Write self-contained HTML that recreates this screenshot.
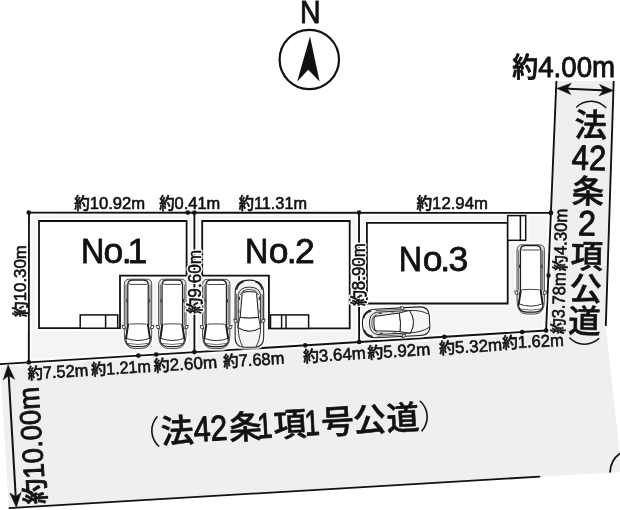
<!DOCTYPE html>
<html lang="ja"><head><meta charset="utf-8"><title>区画図</title>
<style>html,body{margin:0;padding:0;background:#fff}svg{display:block;will-change:transform}.t{font-family:'Liberation Sans','Noto Sans CJK JP',sans-serif;font-weight:500;fill:#111;stroke:#111;stroke-width:0.6px;stroke-linejoin:round}.ln{stroke:#111;stroke-width:1.85;fill:none;stroke-linecap:butt}.b{stroke:#111;stroke-width:1.8;fill:#fff;stroke-linejoin:miter}.p{stroke:#111;stroke-width:1.5;fill:#fff}.c{stroke:#1c1c1c;stroke-width:1.05;fill:#fff;stroke-linejoin:round;stroke-linecap:round}.c2{stroke:#3a3a3a;stroke-width:0.75;fill:none;stroke-linejoin:round;stroke-linecap:round}.k{stroke-width:0.55px}.d{stroke-width:1px}.g{stroke-width:0.9px}.pl{stroke:none;font-weight:300}.n{stroke-width:0.8px}.halo{stroke:#fff;stroke-width:3.2px;fill:#fff}</style></head><body>
<svg width="620" height="510" viewBox="0 0 620 510">
<rect width="620" height="510" fill="#fff"/>
<polygon fill="#efefef" points="0,364.1 546.1,330.5 550.9,212.9 556.4,81 613.7,81 605.8,326 620,456 620,472 608,472.7 9,508"/>
<polygon fill="#f4f4f4" points="28.8,212.5 550.9,212.9 546.1,330.5 28.8,362.3"/>
<defs>
<g id="van" transform="scale(1,0.984)"><path fill="none" stroke="#fff" stroke-width="4.5" opacity="0.7" d="M0,5 Q0,0 5,0 L22.4,0 Q27.4,0 27.4,5 L27.4,57 Q27.4,70.4 17.5,70.4 L9.9,70.4 Q0,70.4 0,57 Z"/><path class="c" style="fill:#e2e2e2;stroke:#444;stroke-width:0.95" d="M0,5 Q0,0 5,0 L22.4,0 Q27.4,0 27.4,5 L27.4,57 Q27.4,70.4 17.5,70.4 L9.9,70.4 Q0,70.4 0,57 Z"/><path class="c2" d="M1.7,46 L1.7,6"/><path class="c2" d="M25.7,46 L25.7,6"/><path class="c" style="stroke-width:1.15" d="M3.5,45.8 L3.5,5.6 Q3.5,0.9 8.2,0.9 L19.2,0.9 Q23.9,0.9 23.9,5.6 L23.9,45.8 L25.9,60.2 Q26.2,68.2 17.4,68.4 L10,68.4 Q1.2,68.2 1.5,60.2 Z"/><path class="c2" style="stroke:#333;stroke-width:0.9" d="M3.9,3.7 L5.6,5.3 L21.8,5.3 L23.5,3.7"/><path class="c2" style="stroke:#333;stroke-width:0.9" d="M5.5,45.6 Q13.7,45 21.9,45.6"/><path class="c" style="fill:none;stroke-width:1.7" d="M3.9,46.2 L1.9,59.8 M23.5,46.2 L25.5,59.8"/><path class="c2" style="stroke:#222;stroke-width:0.95" d="M1.7,60 Q13.7,64.8 25.7,60"/><path class="c2" d="M2.6,65.2 Q13.7,67.6 24.8,65.2"/><path class="c" style="stroke-width:0.8" d="M0.4,47.3 L-2.3,46.8 L-1.6,50 L0.8,50.4 Z M27,47.3 L29.7,46.8 L29,50 L26.6,50.4 Z"/><path class="c2" style="stroke:#333;stroke-width:1.2" d="M2.6,20.5 V23 M24.8,20.5 V23"/></g>
<g id="sedan"><path fill="none" stroke="#fff" stroke-width="4.5" opacity="0.7" d="M0,13 C0,4 5,0 14.3,0 C23.6,0 28.6,4 28.6,13 L28.6,57 Q28.6,67.2 19.5,67.2 L9.1,67.2 Q0,67.2 0,57 Z"/><path class="c" style="fill:#f4f4f4" d="M0,13 C0,4 5,0 14.3,0 C23.6,0 28.6,4 28.6,13 L28.6,57 Q28.6,67.2 19.5,67.2 L9.1,67.2 Q0,67.2 0,57 Z"/><path class="c" style="fill:none;stroke-width:1.5" d="M1.6,9 Q3,3.2 8,1.6 M27,9 Q25.6,3.2 20.6,1.6"/><path class="c2" d="M1.5,14 L1.5,40 M27.1,14 L27.1,40"/><path class="c" style="fill:#e6e6e6;stroke-width:0.9" d="M3.1,40 L3.1,15 Q4.2,7 14.3,7 Q24.4,7 25.5,15 L25.5,40 L25.5,47.6 Q14.3,54.6 3.1,47.6 Z"/><path class="c2" style="stroke:#333" d="M5.4,14.5 Q7,9.4 14.3,9.4 Q21.6,9.4 23.2,14.5"/><path class="c" style="stroke-width:1" d="M8.6,11.9 Q14.3,11.2 20,11.9 Q21.3,12.2 21.5,13.6 L23.5,37.4 Q14.3,38.8 5.1,37.4 L7.1,13.6 Q7.3,12.2 8.6,11.9 Z"/><path class="c" style="stroke-width:0.9" d="M5.1,37.4 Q14.3,38.8 23.5,37.4 L25.5,47.6 Q14.3,54.6 3.1,47.6 Z"/><path class="c2" style="stroke:#222;stroke-width:0.9" d="M3.1,47.9 Q3.2,59 7.6,66.6 M25.5,47.9 Q25.4,59 21,66.6"/><path class="c2" style="stroke:#333;stroke-width:1.2" d="M4.3,17 V19.5 M24.3,17 V19.5 M3.6,30 V32.5 M25,30 V32.5"/><path class="c" style="stroke-width:0.8" d="M1.4,39.6 L-1.3,38.8 L-0.8,41.8 L1.8,42.3 Z M27.2,39.6 L29.9,38.8 L29.4,41.8 L26.8,42.3 Z"/></g>
</defs>
<g fill="none" stroke="#fff" stroke-width="6.5" opacity="0.7" stroke-linejoin="round">
<path d="M39,221 L186.6,221 L186.6,275.7 L120,275.7 L120,328.2 L39,328.2 Z"/>
<path d="M202.2,221 L349.7,221 L349.7,328.4 L268.9,328.4 L268.9,275.7 L202.2,275.7 Z"/>
<path d="M366.9,222.9 L507.7,222.9 L507.7,303.5 L366.9,303.5 Z"/>
<path d="M507.7,215.6 H525.7 V240.3 H507.7"/>
<path d="M28.8,212.6 L550.9,212.9"/>
<path d="M29,212.6 L28.8,362.3"/>
<path d="M0,364.1 L28.8,362.3 L546.1,330.5"/>
<path d="M550.9,212.9 L546.1,330.5"/>
<path d="M194.4,212.6 L194.4,352.1"/>
<path d="M359,212.6 L359.1,342.0"/>
</g>
<path class="b" d="M39,221 L186.6,221 L186.6,275.7 L120,275.7 L120,328.2 L39,328.2 Z"/>
<path class="b" d="M202.2,221 L349.7,221 L349.7,328.4 L268.9,328.4 L268.9,275.7 L202.2,275.7 Z"/>
<path class="b" d="M366.9,222.9 L507.7,222.9 L507.7,303.5 L366.9,303.5 Z"/>
<rect class="p" x="80.2" y="314.9" width="37.5" height="13.3"/>
<path class="ln" style="stroke-width:1.5" d="M105.6,314.9 V328.2"/>
<rect class="p" x="270.5" y="314.9" width="38.1" height="13.5"/>
<path class="ln" style="stroke-width:1.4" d="M281.6,314.9 V328.4 M286,314.9 V328.4"/>
<rect class="p" x="507.7" y="215.6" width="18" height="24.7"/>
<path class="ln" style="stroke-width:1.5" d="M520.4,215.6 V240.3"/>
<path class="ln" d="M28.8,212.6 L550.9,212.9"/>
<path class="ln" d="M29,212.6 L28.8,362.3"/>
<path class="ln" d="M0,364.1 L28.8,362.3 L546.1,330.5"/>
<path class="ln" d="M556.4,81 L550.9,212.9 L546.1,330.5"/>
<path class="ln" d="M613.7,81 L605.8,326"/>
<path class="ln" d="M194.4,212.6 L194.4,352.1"/>
<path class="ln" d="M359,212.6 L359.1,342.0"/>
<path class="ln" d="M8.7,508.1 L540.2,476.6"/>
<path class="ln" d="M620,453.4 Q610.5,460 610,472.5"/>
<circle cx="28.8" cy="212.6" r="2.35" fill="#111"/>
<circle cx="187.8" cy="212.6" r="2.35" fill="#111"/>
<circle cx="194.4" cy="212.6" r="2.35" fill="#111"/>
<circle cx="359.0" cy="212.6" r="2.35" fill="#111"/>
<circle cx="550.9" cy="212.9" r="2.35" fill="#111"/>
<circle cx="548.4" cy="275.6" r="2.35" fill="#111"/>
<circle cx="546.1" cy="330.5" r="2.35" fill="#111"/>
<circle cx="28.8" cy="362.3" r="2.35" fill="#111"/>
<circle cx="138.4" cy="355.6" r="2.35" fill="#111"/>
<circle cx="156.2" cy="354.5" r="2.35" fill="#111"/>
<circle cx="194.4" cy="352.1" r="2.35" fill="#111"/>
<circle cx="305.2" cy="345.3" r="2.35" fill="#111"/>
<circle cx="359.1" cy="342.0" r="2.35" fill="#111"/>
<circle cx="444.3" cy="336.8" r="2.35" fill="#111"/>
<circle cx="522.2" cy="332.0" r="2.35" fill="#111"/>
<use href="#van" x="124.3" y="279.2"/>
<use href="#van" x="158.6" y="279.2"/>
<use href="#van" x="202.5" y="279.3"/>
<use href="#sedan" x="235.1" y="280.1"/>
<use href="#van" x="517" y="244.8"/>
<g transform="translate(396,322.4) rotate(-93) translate(-14.3,-33.6)"><use href="#sedan" x="0" y="0"/></g>
<circle cx="309.3" cy="59.5" r="29.7" fill="#fff" stroke="#111" stroke-width="2.2"/>
<path d="M310,36.6 L319.6,81.4 L308.2,69.8 L297.2,81.4 Z" fill="#111"/>
<g class="t">
<text x="310.2" y="22.5" font-size="31.4" text-anchor="middle" textLength="20.6" lengthAdjust="spacingAndGlyphs" style="stroke-width:0.9px">N</text>
<path class="ln" style="stroke-width:2.0" d="M563.0,88.6 L607.4,90.4"/><path fill="#111" d="M557.0,88.4 L570.8,94.5 L567.1,88.8 L571.2,83.3 Z"/><path fill="#111" d="M613.4,90.6 L599.2,95.7 L603.3,90.2 L599.6,84.5 Z"/>
<path class="ln" style="stroke-width:2.0" d="M8.4,371.0 L16.0,501.2"/><path fill="#111" d="M8.1,365.0 L3.3,379.8 L8.7,375.4 L14.5,379.2 Z"/><path fill="#111" d="M16.3,507.2 L9.9,493.0 L15.7,496.8 L21.1,492.4 Z"/>
<text class="n" font-size="35.5" y="262.7"><tspan x="81.1" textLength="23.3" lengthAdjust="spacingAndGlyphs">N</tspan><tspan x="103.6 121.7 127.5">o.1</tspan></text>
<text class="n" font-size="35.5" y="263.3"><tspan x="245.1" textLength="23.3" lengthAdjust="spacingAndGlyphs">N</tspan><tspan x="268.8 286.7 295">o.2</tspan></text>
<text class="n" font-size="35.5" y="271.4"><tspan x="398.7" textLength="23.3" lengthAdjust="spacingAndGlyphs">N</tspan><tspan x="422.7 440.3 448.5">o.3</tspan></text>
<text x="74.2" y="209.1" font-size="16.0" textLength="71.0" lengthAdjust="spacingAndGlyphs">約<tspan font-size="17.1">10.92m</tspan></text>
<text x="159.2" y="209.1" font-size="16.0" textLength="61.0" lengthAdjust="spacingAndGlyphs">約<tspan font-size="17.1">0.41m</tspan></text>
<text x="238.7" y="209.1" font-size="16.0" textLength="68.3" lengthAdjust="spacingAndGlyphs">約<tspan font-size="17.1">11.31m</tspan></text>
<text x="416.4" y="209.1" font-size="16.0" textLength="71.5" lengthAdjust="spacingAndGlyphs">約<tspan font-size="17.1">12.94m</tspan></text>
<text x="28.0" y="379.5" font-size="16.0" textLength="60.7" lengthAdjust="spacingAndGlyphs" transform="rotate(-3.50 28.0 379.5)">約<tspan font-size="17.1">7.52m</tspan></text>
<text x="91.5" y="375.6" font-size="16.0" textLength="59.8" lengthAdjust="spacingAndGlyphs" transform="rotate(-3.50 91.5 375.6)">約<tspan font-size="17.1">1.21m</tspan></text>
<text x="154.0" y="371.8" font-size="16.0" textLength="63.6" lengthAdjust="spacingAndGlyphs" transform="rotate(-3.50 154.0 371.8)">約<tspan font-size="17.1">2.60m</tspan></text>
<text x="223.5" y="367.5" font-size="16.0" textLength="61.3" lengthAdjust="spacingAndGlyphs" transform="rotate(-3.50 223.5 367.5)">約<tspan font-size="17.1">7.68m</tspan></text>
<text x="303.5" y="362.6" font-size="16.0" textLength="62.8" lengthAdjust="spacingAndGlyphs" transform="rotate(-3.50 303.5 362.6)">約<tspan font-size="17.1">3.64m</tspan></text>
<text x="367.7" y="358.7" font-size="16.0" textLength="63.0" lengthAdjust="spacingAndGlyphs" transform="rotate(-3.50 367.7 358.7)">約<tspan font-size="17.1">5.92m</tspan></text>
<text x="439.4" y="354.3" font-size="16.0" textLength="63.2" lengthAdjust="spacingAndGlyphs" transform="rotate(-3.50 439.4 354.3)">約<tspan font-size="17.1">5.32m</tspan></text>
<text x="502.6" y="348.7" font-size="16.0" textLength="61.5" lengthAdjust="spacingAndGlyphs" transform="rotate(-2.60 502.6 348.7)">約<tspan font-size="17.1">1.62m</tspan></text>
<text x="26.0" y="316.9" font-size="16.2" textLength="71.6" lengthAdjust="spacingAndGlyphs" transform="rotate(-90.00 26.0 316.9)">約<tspan font-size="17.3">10.30m</tspan></text>
<use href="#h1" class="halo"/>
<text x="201.3" y="313.8" font-size="17.3" textLength="64.0" lengthAdjust="spacingAndGlyphs" transform="rotate(-90.00 201.3 313.8)" id="h1">約<tspan font-size="18.5">9.60m</tspan></text>
<use href="#h2" class="halo"/>
<text x="365.4" y="305.9" font-size="17.3" textLength="62.7" lengthAdjust="spacingAndGlyphs" transform="rotate(-90.00 365.4 305.9)" id="h2">約<tspan font-size="18.5">8.90m</tspan></text>
<text x="566.1" y="271.0" font-size="16.5" textLength="62.4" lengthAdjust="spacingAndGlyphs" transform="rotate(-89.00 566.1 271.0)">約<tspan font-size="17.7">4.30m</tspan></text>
<text x="563.9" y="334.0" font-size="16.5" textLength="61.6" lengthAdjust="spacingAndGlyphs" transform="rotate(-88.50 563.9 334.0)">約<tspan font-size="17.7">3.78m</tspan></text>
<text x="45.8" y="503.6" font-size="27.3" textLength="117.5" lengthAdjust="spacingAndGlyphs" transform="rotate(-93.60 45.8 503.6)" class="g">約<tspan font-size="29.2">10.00m</tspan></text>
<text x="512.3" y="77.3" font-size="27.3" textLength="102.8" lengthAdjust="spacingAndGlyphs" class="g">約<tspan font-size="29.2">4.00m</tspan></text>
<text transform="translate(160,443.8) rotate(-3.3)" font-size="33" class="k" y="0"><tspan class="pl" x="-31.8">（</tspan><tspan x="1.4">法</tspan><tspan class="d" font-size="35.6" x="34.2" textLength="34" lengthAdjust="spacingAndGlyphs">42</tspan><tspan x="69.5">条</tspan><tspan class="d" font-size="35.6" x="98.1" textLength="15" lengthAdjust="spacingAndGlyphs">1</tspan><tspan x="114.2">項</tspan><tspan class="d" font-size="35.6" x="145.4" textLength="15" lengthAdjust="spacingAndGlyphs">1</tspan><tspan x="162">号</tspan><tspan x="194.2">公</tspan><tspan x="227.4">道</tspan><tspan class="pl" x="259.7">）</tspan></text>
<text transform="rotate(1.2 588 220)" font-size="32.5" class="k" text-anchor="middle"><tspan class="pl" rotate="90" x="592.8" y="77.2">（</tspan><tspan x="588.7" y="136.8">法</tspan><tspan class="d" font-size="35.2" x="587.6" y="169.9" textLength="34.5" lengthAdjust="spacingAndGlyphs">42</tspan><tspan x="587.4" y="203.2">条</tspan><tspan class="d" font-size="35.2" x="587.2" y="235.5" textLength="18.0" lengthAdjust="spacingAndGlyphs">2</tspan><tspan x="587.5" y="268.2">項</tspan><tspan x="587.1" y="300.3">公</tspan><tspan x="586.6" y="332.9">道</tspan><tspan class="pl" rotate="90" x="590.7" y="335.8">）</tspan></text>
</g>
</svg></body></html>
